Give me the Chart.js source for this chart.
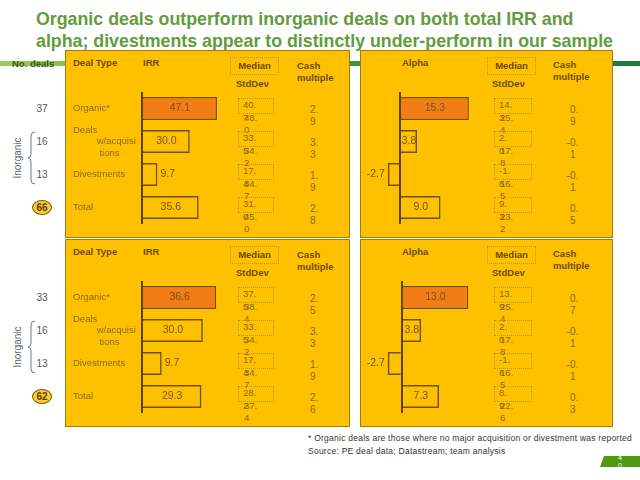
<!DOCTYPE html>
<html>
<head>
<meta charset="utf-8">
<script src="https://cdn.jsdelivr.net/npm/chart.js@4.4.0/dist/chart.umd.min.js"></script>
<style>
body { margin: 0; width: 640px; height: 480px; background: #fff; position: relative; overflow: hidden; font-family: Arial, "Liberation Sans", sans-serif; }
.t { position: absolute; line-height: 12px; transform: translateY(-50%); white-space: nowrap; color: #8a6a1a; font-size: 10px; }
.h { font-weight: bold; color: #6b4c00; font-size: 9.5px; }
.panel { position: absolute; background: #FFC000; border: 1px solid #a07c10; box-sizing: border-box; }
.dot { position: absolute; border: 1px dotted #b8963a; box-sizing: border-box; }
#title { position: absolute; left: 36px; top: 8px; font-size: 17.8px; line-height: 22px; font-weight: bold; color: #629c3c; white-space: nowrap; }
#greenbar { position: absolute; left: 0; top: 61px; width: 640px; height: 5px; background: linear-gradient(to right, #9ccc5a, #3f9a3c 50%, #1f7a3a); }
canvas { position: absolute; }
</style>
</head>
<body>
<div id="title">Organic deals outperform inorganic deals on both total IRR and<br>alpha; divestments appear to distinctly under-perform in our sample</div>
<div id="greenbar"></div>
<script>
// deal type labels (wrapped like on the slide)
var dealTypes = [['Organic*'], ['Deals', '         w/acquisi', '          tions'], ['Divestments'], ['Total']];

var dealsTop = [37, 16, 13, 66];
var irrTop = [47.1, 30.0, 9.7, 35.6];
var irrMedianTop = [40.7, 33.5, 17.4, 31.0];
var irrStdTop = [48.0, 34.2, 34.7, 45.0];
var irrCashTop = [2.9, 3.3, 1.9, 2.8];
var alphaTop = [15.3, 3.8, -2.7, 9.0];
var alphaMedianTop = [14.3, 2.0, -1.6, 9.3];
var alphaStdTop = [25.4, 17.8, 16.5, 23.2];
var alphaCashTop = [0.9, -0.1, -0.1, 0.5];

var dealsBottom = [33, 16, 13, 62];
var irrBottom = [36.6, 30.0, 9.7, 29.3];
var irrMedianBottom = [37.5, 33.5, 17.4, 28.2];
var irrStdBottom = [38.4, 34.2, 34.7, 37.4];
var irrCashBottom = [2.5, 3.3, 1.9, 2.6];
var alphaBottom = [13.0, 3.8, -2.7, 7.3];
var alphaMedianBottom = [13.9, 2.0, -1.6, 8.9];
var alphaStdBottom = [25.4, 17.8, 16.5, 22.6];
var alphaCashBottom = [0.7, -0.1, -0.1, 0.3];

var rowOffsets = [58.5, 91.5, 124.5, 157.5];

function put(x, y, text, cls, extra) {
    var d = document.createElement('div')
    d.className = 't' + (cls ? ' ' + cls : '')
    d.style.left = x + 'px'
    d.style.top = y + 'px'
    if (extra) d.style.cssText += extra
    d.textContent = text
    document.body.appendChild(d)
    return d
}

function box(cls, x, y, w, h, extra) {
    var d = document.createElement('div')
    d.className = cls
    d.style.left = x + 'px'
    d.style.top = y + 'px'
    d.style.width = w + 'px'
    d.style.height = h + 'px'
    if (extra) d.style.cssText += extra
    document.body.appendChild(d)
    return d
}

// "40.7" -> ["40.", "7"], the way the narrow cells wrap
function wrapNum(v) {
    var s = v.toFixed(1)
    var k = s.indexOf('.')
    return [s.slice(0, k + 1), s.slice(k + 1)]
}

// value labels: centred in the bar, or next to it when the bar is too short
var valueLabels = {
    id: 'valueLabels',
    afterDatasetsDraw: function (chart) {
        var ctx = chart.ctx
        var meta = chart.getDatasetMeta(0)
        var data = chart.data.datasets[0].data
        var minInside = chart.options.plugins.valueLabels.minInside
        ctx.save()
        ctx.font = '10.5px Arial'
        ctx.fillStyle = '#7a5510'
        ctx.textBaseline = 'middle'
        meta.data.forEach(function (bar, i) {
            var v = data[i]
            var s = v.toFixed(1)
            var w = Math.abs(bar.x - bar.base)
            if (w < minInside) {
                if (v >= 0) { ctx.textAlign = 'left'; ctx.fillText(s, bar.x + 3, bar.y) }
                else { ctx.textAlign = 'right'; ctx.fillText(s, bar.x - 3, bar.y) }
            } else {
                ctx.textAlign = 'center'
                ctx.fillText(s, (bar.x + bar.base) / 2, bar.y)
            }
        })
        ctx.restore()
    }
}

function barChart(x, y, w, h, values, min, max, showLabels, padLeft, padRight, minInside) {
    var c = document.createElement('canvas')
    c.width = w
    c.height = h
    c.style.left = x + 'px'
    c.style.top = y + 'px'
    document.body.appendChild(c)
    var fills = values.map(function (v, i) { return i === 0 ? '#F27D17' : 'rgba(0,0,0,0)' })
    new Chart(c.getContext('2d'), {
        type: 'bar',
        data: {
            labels: dealTypes,
            datasets: [{
                data: values,
                backgroundColor: fills,
                borderColor: '#6e5000',
                borderWidth: 1.5,
                categoryPercentage: 1,
                barPercentage: 0.7
            }]
        },
        options: {
            indexAxis: 'y',
            responsive: false,
            animation: false,
            layout: { padding: { left: padLeft, right: padRight, top: 0, bottom: 0 } },
            plugins: { legend: { display: false }, tooltip: { enabled: false }, valueLabels: { minInside: minInside } },
            scales: {
                x: {
                    min: min, max: max,
                    ticks: { display: false },
                    grid: { color: '#5a4300', lineWidth: 2, drawTicks: false },
                    border: { display: false },
                    afterBuildTicks: function (s) { s.ticks = [{ value: 0 }] },
                    afterFit: function (s) { s.height = 0 }
                },
                y: {
                    display: showLabels,
                    ticks: { autoSkip: false, crossAlign: 'far', padding: 0, color: '#8a6a1a', font: { size: 9.5, family: 'Arial' } },
                    grid: { display: false },
                    border: { display: false },
                    afterFit: function (s) {
                        s.width = showLabels ? 69 : 0
                        s.paddingTop = 0
                        s.paddingBottom = 0
                    }
                }
            }
        },
        plugins: [valueLabels]
    })
}

function leftSide(T, deals) {
    deals.forEach(function (n, i) {
        var y = T + rowOffsets[i]
        if (i === 3) {
            box('', 32, y - 7.5, 20, 15, 'position:absolute;border-radius:50%;background:#FFCB30;border:1px solid #7a5a00;box-sizing:border-box;')
            put(42, y, String(n), 'h', 'transform:translate(-50%,-50%);font-size:10px;color:#5a4000;')
        } else {
            put(42, y, String(n), '', 'transform:translate(-50%,-50%);color:#555;')
        }
    })
    put(18, T + 108, 'Inorganic', '', 'transform:translate(-50%,-50%) rotate(-90deg);color:#666;font-size:10px;')
    var svg = '<svg width="10" height="54" style="position:absolute;left:27px;top:' + (T + 81) + 'px" viewBox="0 0 10 54">' +
        '<path d="M8 1 Q4 1 4 5 L4 23 Q4 27 1 27 Q4 27 4 31 L4 49 Q4 53 8 53" fill="none" stroke="#777" stroke-width="1"/></svg>'
    document.body.insertAdjacentHTML('beforeend', svg)
}

function irrPanel(T, values, max, medians, stds, cash) {
    box('panel', 65, T, 285, 188)
    put(73, T + 13, 'Deal Type', 'h')
    put(143, T + 13, 'IRR', 'h')
    box('dot', 230, T + 7, 49, 18)
    put(254.5, T + 16, 'Median', 'h', 'transform:translate(-50%,-50%);')
    put(236, T + 34, 'StdDev', 'h')
    put(297, T + 16, 'Cash', 'h')
    put(297, T + 28, 'multiple', 'h')
    rowOffsets.forEach(function (o, i) {
        var y = T + o
        box('dot', 238, y - 11, 36, 16)
        var m = wrapNum(medians[i]), s = wrapNum(stds[i]), c = wrapNum(cash[i])
        put(243, y - 3.5, m[0], '', 'font-size:9.5px;')
        put(243, y + 9, m[1], '', 'font-size:9.5px;')
        put(244, y + 9, s[0], '', 'font-size:9.5px;')
        put(244, y + 21, s[1], '', 'font-size:9.5px;')
        put(310 - (cash[i] < 0 ? 3.3 : 0), y + 1, c[0])
        put(310, y + 13, c[1])
    })
    barChart(73, T + 42, 157, 132, values, 0, max, true, 0, 0, 22)
}

function alphaPanel(T, values, min, max, padLeft, width, medians, stds, cash) {
    box('panel', 360, T, 253, 188)
    put(402, T + 13, 'Alpha', 'h')
    box('dot', 487, T + 7, 49, 18)
    put(511.5, T + 16, 'Median', 'h', 'transform:translate(-50%,-50%);')
    put(492, T + 34, 'StdDev', 'h')
    put(553, T + 15, 'Cash', 'h')
    put(553, T + 27, 'multiple', 'h')
    rowOffsets.forEach(function (o, i) {
        var y = T + o
        box('dot', 494, y - 11, 38, 16)
        var m = wrapNum(medians[i]), s = wrapNum(stds[i]), c = wrapNum(cash[i])
        put(499, y - 3.5, m[0], '', 'font-size:9.5px;')
        put(499, y + 9, m[1], '', 'font-size:9.5px;')
        put(500, y + 9, s[0], '', 'font-size:9.5px;')
        put(500, y + 21, s[1], '', 'font-size:9.5px;')
        put(570 - (cash[i] < 0 ? 3.3 : 0), y + 1, c[0])
        put(570, y + 13, c[1])
    })
    barChart(360, T + 42, width, 132, values, min, max, false, padLeft, 8, 16)
}

put(12, 63.5, 'No. deals', 'h', 'color:#3d5a1c;font-size:9.5px;')

irrPanel(50, irrTop, 55.3, irrMedianTop, irrStdTop, irrCashTop)
alphaPanel(50, alphaTop, -6, 16, 13, 120, alphaMedianTop, alphaStdTop, alphaCashTop)
leftSide(50, dealsTop)

irrPanel(239, irrBottom, 43.4, irrMedianBottom, irrStdBottom, irrCashBottom)
alphaPanel(239, alphaBottom, -5, 14.5, 16, 124, alphaMedianBottom, alphaStdBottom, alphaCashBottom)
leftSide(239, dealsBottom)

put(308, 438, '*    Organic deals are those where no major acquisition or divestment was reported', '', 'font-size:8.5px;color:#333;letter-spacing:0.25px;')
put(308, 451, 'Source: PE deal data; Datastream; team analysis', '', 'font-size:8.5px;color:#333;letter-spacing:0.25px;')

box('', 600, 456, 40, 11, 'position:absolute;background:#4f9a12;clip-path:polygon(4px 0,100% 0,100% 100%,0 100%);')
put(618, 457, '4', '', 'color:#fff;font-size:7px;line-height:7px;')
put(618, 465, '0', '', 'color:#fff;font-size:7px;line-height:7px;')
</script>
</body>
</html>
